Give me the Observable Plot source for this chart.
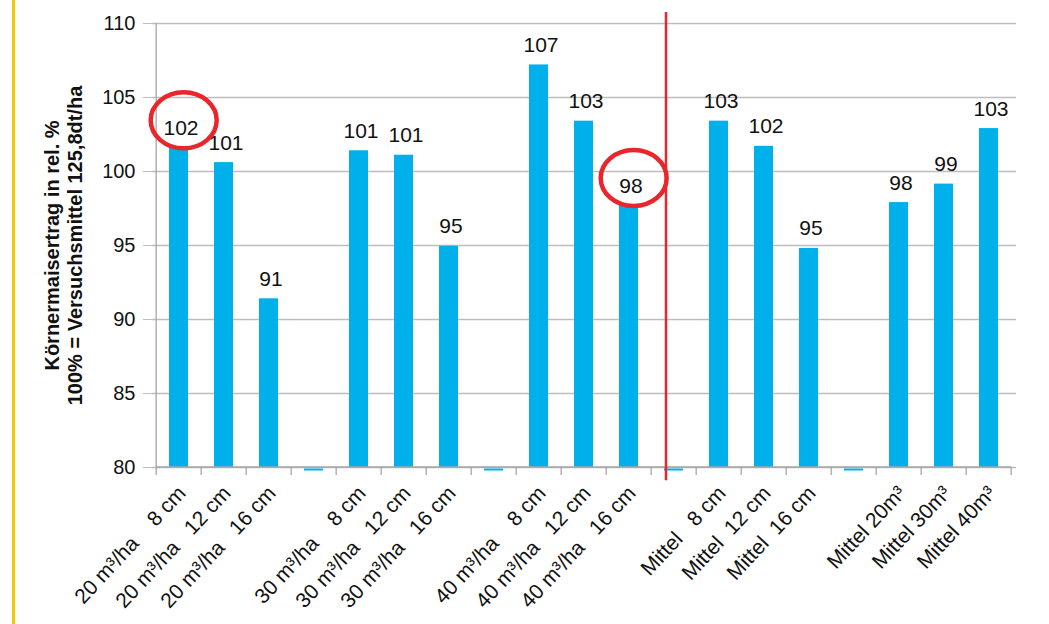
<!DOCTYPE html>
<html><head><meta charset="utf-8">
<script src="https://cdn.jsdelivr.net/npm/d3@7"></script>
<script src="https://cdn.jsdelivr.net/npm/@observablehq/plot@0.6"></script>
<style>
body{margin:0;background:#fff;font-family:"Liberation Sans",Arial,sans-serif;}
#wrap{position:relative;width:1049px;height:624px;overflow:hidden;}
#bar{position:absolute;left:12px;top:0;width:3px;height:624px;background:#F7C600;}
</style></head>
<body><div id="wrap"><div id="bar"></div></div>
<script>
const categories = ["20 m³/ha\u00a0\u00a0\u00a0 8 cm","20 m³/ha\u00a0\u00a0 12 cm","20 m³/ha\u00a0\u00a0 16 cm","gap1",
  "30 m³/ha\u00a0\u00a0\u00a0 8 cm","30 m³/ha\u00a0\u00a0 12 cm","30 m³/ha\u00a0\u00a0 16 cm","gap2",
  "40 m³/ha\u00a0\u00a0\u00a0 8 cm","40 m³/ha\u00a0\u00a0 12 cm","40 m³/ha\u00a0\u00a0 16 cm","gap3",
  "Mittel\u00a0\u00a0 8 cm","Mittel\u00a0\u00a012 cm","Mittel\u00a0\u00a016 cm","gap4",
  "Mittel 20m³","Mittel 30m³","Mittel 40m³"];
const gaps = ["gap1","gap2","gap3","gap4"];
const barCats = categories.filter(c => !gaps.includes(c));
const values = [101.6,100.6,91.4, 101.4,101.1,94.95, 107.2,103.4,97.7, 103.4,101.7,94.8, 97.9,99.15,102.9];
const circled = [categories[0], categories[10]];
const separatorAt = "gap3";
const yTicks = [80,85,90,95,100,105,110];
const yLabel = "Körnermaisertrag in rel. %\n100% = Versuchsmittel 125,8dt/ha";

const data = barCats.map((c,i)=>({cat:c, v:values[i]}));
const PAD = 0.57;
const font = '"Liberation Sans",Arial,sans-serif';

function boundaryTicks(index, scales) {
  const x = scales.x, y = scales.y;
  const step = x(categories[1]) - x(categories[0]);
  const bw = step*(1-PAD);
  const y0 = y(80);
  const g = d3.create("svg:g").attr("stroke","#a6a6a6").attr("stroke-width",1.3);
  const xs = categories.map(c => x(c) + bw/2 - step/2);
  xs.push(xs[xs.length-1]+step);
  for (const px of xs) g.append("line").attr("x1",px).attr("x2",px).attr("y1",y0).attr("y2",y0+8);
  g.append("line").attr("x1",xs[0]).attr("x2",xs[xs.length-1]).attr("y1",y0).attr("y2",y0);
  g.append("line").attr("x1",xs[0]).attr("x2",xs[0]).attr("y1",y(110)).attr("y2",y0);
  return g.node();
}
function ellipses(index, scales) {
  const x = scales.x, y = scales.y;
  const step = x(categories[1]) - x(categories[0]);
  const bw = step*(1-PAD);
  const g = d3.create("svg:g").attr("fill","none").attr("stroke","#E8262B").attr("stroke-width",4.5);
  for (const c of circled) {
    const d = data.find(e=>e.cat===c);
    g.append("ellipse").attr("cx", x(c)+bw/2+5).attr("cy", y(d.v)-27).attr("rx",33).attr("ry",28);
  }
  return g.node();
}

const chart = Plot.plot({
  width: 1049, height: 624,
  marginLeft: 152, marginRight: 33, marginTop: 23, marginBottom: 157,
  style: {fontFamily: font, background: "transparent", overflow: "visible"},
  x: {domain: categories, paddingInner: PAD, paddingOuter: PAD/2, label: null},
  y: {domain: [80,110], label: null},
  marks: [
    Plot.gridY(yTicks, {stroke:"#bdbdbd", strokeOpacity:1, strokeWidth:1.3}),
    Plot.axisY(yTicks, {tickSize: 9, stroke:"#bdbdbd", strokeOpacity:1, tickPadding: 8, fontSize: 20, fill:"#111", label:null}),
    Plot.axisX({tickSize: 0, tickPadding: 22, tickRotate: -47, fontSize: 21, fill:"#111", dx: 3,
      tickFormat: d => gaps.includes(d) ? "" : d, label: null}),
    Plot.barY(data, {x:"cat", y1: 80, y2:"v", fill:"#00B0EA"}),
    Plot.tickY(gaps, {x: d=>d, y: ()=>80, stroke:"#00B0EA", strokeWidth:2, dy:2}),
    boundaryTicks,
    Plot.ruleX([separatorAt], {x: d=>d, y1: ()=>110.75, y2: ()=>79.1, stroke:"#E8262B", strokeWidth:2.5, dx:-8, clip:false}),
    Plot.text(data, {x:"cat", y:"v", text: d=>String(Math.round(d.v)), dy:-13, lineAnchor:"bottom", fontSize:21, fill:"#111", dx:2}),
    ellipses,
    Plot.text([yLabel], {frameAnchor:"left", text: d=>d, rotate:-90, dx:-89, fontSize:20, fontWeight:"bold", fill:"#111", lineHeight:1.12, textAnchor:"middle"})
  ]
});
chart.style.position = "absolute"; chart.style.left = "0"; chart.style.top = "0";
document.getElementById("wrap").appendChild(chart);
</script></body></html>
